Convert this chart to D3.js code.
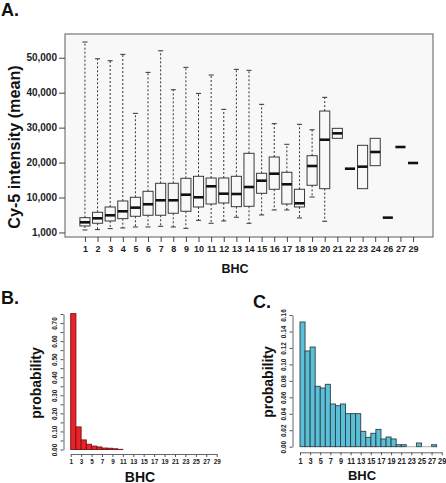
<!DOCTYPE html>
<html><head><meta charset="utf-8">
<script src="https://cdn.jsdelivr.net/npm/d3@7"></script>
<style>
html,body{margin:0;padding:0;background:#fff;}
svg{display:block;font-family:"Liberation Sans",Arial,Helvetica,sans-serif;}
</style></head><body>
<svg id="chart" width="446" height="483"></svg>
<script>
// ---------- Panel A data (box plots of Cy-5 intensity by BHC) ----------
const bhcCategories = ["1","2","3","4","5","6","7","8","9","10","11","12","13","14","15","16","17","18","19","20","21","22","23","24","26","27","29"];
const whiskerHigh = [54500,49700,49150,50970,34090,45820,52000,40850,47250,39800,45050,35240,46680,46400,36670,31130,25230,30950,29400,38670,null,null,null,null,null,null,null];
const boxHigh     = [4240,5770,7290,9010,10070,11780,14070,14070,15500,16070,15590,15590,16070,22650,16930,21600,17220,12360,21970,34750,29800,18250,24940,26940,4240,24460,19880];
const medians     = [2900,4050,4910,6060,7100,8070,9210,9210,10810,10070,13210,11100,11010,13010,14820,16820,13790,8350,19020,26540,28370,18250,18830,23030,4240,24460,19880];
const boxLow      = [1860,2630,3290,3950,4630,4920,4920,5490,6060,7290,8150,8440,7380,7490,11210,12360,8150,7300,13500,12530,26940,18250,12530,19110,4240,24460,19880];
const whiskerLow  = [715,810,1100,1290,1570,1570,1760,1570,1190,3480,2630,3290,4350,2630,5010,6440,6440,4150,10150,3200,null,null,null,null,null,null,null];
const yTickValuesA = [0,10000,20000,30000,40000,50000];
const yTickLabelsA = ["1,000","10,000","20,000","30,000","40,000","50,000"];

// ---------- Panel B data (histogram, bins [k,k+1]) ----------
const probB = [0.752,0.125,0.053,0.029,0.019,0.014,0.008,0.007,0.004,0.001,0,0,0,0,0,0,0,0,0,0,0,0,0,0,0,0,0,0];
const yTicksB = [0,0.05,0.10,0.15,0.20,0.25,0.30,0.35,0.40,0.45,0.50,0.55,0.60,0.65,0.70,0.75];
const yLabelsB = ["0.00","","0.10","","0.20","","0.30","","0.40","","0.50","","0.60","","0.70",""];

// ---------- Panel C data ----------
const probC = [0.1515,0.1163,0.1211,0.0734,0.0713,0.0758,0.0519,0.0498,0.0519,0.0401,0.0401,0.0401,0.0187,0.0114,0.0163,0.0211,0.0094,0.0118,0.0094,0.0024,0.0024,0,0,0.0045,0,0,0.0024];
const yTicksC = [0,0.02,0.04,0.06,0.08,0.10,0.12,0.14,0.16];
const yLabelsC = ["0.00","0.02","0.04","0.06","0.08","0.10","0.12","0.14","0.16"];

const histTicks = [1,3,5,7,9,11,13,15,17,19,21,23,25,27,29];

const svg = d3.select("#chart");

// ================= Panel A =================
const A = {left:65, right:433, top:34, bottom:237};
const xA = d3.scalePoint().domain(bhcCategories).range([A.left, A.right]).padding(1.58);
const yA = d3.scaleLinear().domain([-1300, 56800]).range([A.bottom, A.top]);
const boxW = xA.step() * 0.8;

svg.append("rect").attr("x",A.left).attr("y",A.top)
  .attr("width",A.right-A.left).attr("height",A.bottom-A.top).attr("fill","#f8f8f8");

const boxes = bhcCategories.map((c,i)=>({c, wl:whiskerLow[i], bl:boxLow[i], md:medians[i], bh:boxHigh[i], wh:whiskerHigh[i]}));
const bg = svg.append("g").selectAll("g").data(boxes).join("g")
  .attr("transform", d=>`translate(${xA(d.c)},0)`);

const wh = bg.filter(d=>d.wh!=null);
wh.append("line").attr("y1",d=>yA(d.bh)).attr("y2",d=>yA(d.wh))
  .attr("stroke","#333").attr("stroke-width",1).attr("stroke-dasharray","2,2");
wh.append("line").attr("y1",d=>yA(d.bl)).attr("y2",d=>yA(d.wl))
  .attr("stroke","#333").attr("stroke-width",1).attr("stroke-dasharray","2,2");
wh.append("line").attr("x1",-boxW/4).attr("x2",boxW/4).attr("y1",d=>yA(d.wh)).attr("y2",d=>yA(d.wh))
  .attr("stroke","#333").attr("stroke-width",1);
wh.append("line").attr("x1",-boxW/4).attr("x2",boxW/4).attr("y1",d=>yA(d.wl)).attr("y2",d=>yA(d.wl))
  .attr("stroke","#333").attr("stroke-width",1);
bg.append("rect").attr("x",-boxW/2).attr("width",boxW)
  .attr("y",d=>yA(d.bh)).attr("height",d=>yA(d.bl)-yA(d.bh))
  .attr("fill","none").attr("stroke","#3a3a3a").attr("stroke-width",1);
bg.append("line").attr("x1",-boxW/2).attr("x2",boxW/2).attr("y1",d=>yA(d.md)).attr("y2",d=>yA(d.md))
  .attr("stroke","#111").attr("stroke-width",2.6);

svg.append("rect").attr("x",A.left).attr("y",A.top)
  .attr("width",A.right-A.left).attr("height",A.bottom-A.top)
  .attr("fill","none").attr("stroke","#777").attr("stroke-width",1.2);

function styleAxis(g, fs){
  g.select(".domain").remove();
  g.selectAll(".tick line").attr("stroke","#444");
  g.selectAll("text").attr("font-size",fs).attr("font-weight","bold").attr("fill","#222")
    .attr("font-family","'Liberation Sans',Arial,sans-serif");
}

svg.append("g").attr("transform",`translate(${A.left},0)`)
  .call(d3.axisLeft(yA).tickValues(yTickValuesA).tickFormat((d,i)=>yTickLabelsA[i]).tickSize(6).tickPadding(2))
  .call(g=>styleAxis(g,"10px"));
svg.append("g").attr("transform",`translate(0,${A.bottom})`)
  .call(d3.axisBottom(xA).tickSize(5).tickPadding(4))
  .call(g=>styleAxis(g,"9px"));

svg.append("text").attr("transform","translate(19.5,147) rotate(-90) scale(0.95,1)")
  .attr("text-anchor","middle").attr("font-size","17px").attr("font-weight","bold").attr("fill","#111")
  .text("Cy-5 intensity (mean)");
svg.append("text").attr("x",235).attr("y",273).attr("text-anchor","middle")
  .attr("font-size","12.5px").attr("font-weight","bold").attr("fill","#111").text("BHC");
svg.append("text").attr("x",1).attr("y",16).attr("font-size","18px").attr("font-weight","bold").attr("fill","#111").text("A.");

// ================= Histogram helper =================
function histPanel(cfg){
  const x = d3.scaleLinear().domain([1,29]).range(cfg.xr);
  const y = d3.scaleLinear().domain(cfg.yd).range(cfg.yr);
  const bins = cfg.data.map((p,i)=>({x0:i+1, x1:i+2, p}));
  const g = svg.append("g");
  g.selectAll("rect").data(bins.filter(b=>b.p>0)).join("rect")
    .attr("x",d=>x(d.x0)).attr("width",d=>x(d.x1)-x(d.x0))
    .attr("y",d=>y(d.p)).attr("height",d=>y(0)-y(d.p))
    .attr("fill",cfg.fill).attr("stroke",cfg.stroke).attr("stroke-width",0.9);
  if(cfg.zeroLine){
    g.selectAll("line.z").data(bins.filter(b=>b.p===0)).join("line")
      .attr("x1",d=>x(d.x0)).attr("x2",d=>x(d.x1)).attr("y1",y(0)).attr("y2",y(0))
      .attr("stroke","#aaa").attr("stroke-width",1);
  }
  // y axis
  const ya = svg.append("g").attr("transform",`translate(${cfg.yAxisX},0)`)
    .call(d3.axisLeft(y).tickValues(cfg.yTicks).tickFormat((d,i)=>cfg.yLabels[i]).tickSize(3).tickSizeOuter(0));
  ya.select(".domain").attr("stroke","#666");
  ya.selectAll(".tick line").attr("stroke","#555");
  ya.selectAll("text").attr("x",0).attr("y",0).attr("dy",0).attr("text-anchor","middle")
    .attr("transform",`translate(-7,0) rotate(-90) scale(0.8,1)`)
    .attr("font-size",cfg.yfs).attr("font-weight","bold").attr("fill","#222");
  // x axis
  const xa = svg.append("g").attr("transform",`translate(0,${cfg.xAxisY})`)
    .call(d3.axisBottom(x).tickValues(histTicks).tickFormat(d3.format("d")).tickSize(3).tickSizeOuter(0).tickPadding(2));
  xa.select(".domain").attr("stroke","#666");
  xa.selectAll(".tick line").attr("stroke","#555");
  xa.selectAll("text").each(function(){
    const t = d3.select(this);
    const yy = +t.attr("y");
    t.attr("y",0).attr("transform",`translate(0,${yy}) scale(${cfg.xsx},1)`);
  }).attr("font-size",cfg.xfs).attr("font-weight","bold").attr("fill","#222");
  // titles
  svg.append("text").attr("transform",`translate(${cfg.ytitle[0]},${cfg.ytitle[1]}) rotate(-90)`)
    .attr("text-anchor","middle").attr("font-size","14px").attr("font-weight","bold").attr("fill","#111")
    .text("probability");
  svg.append("text").attr("x",cfg.xtitle[0]).attr("y",cfg.xtitle[1]).attr("text-anchor","middle")
    .attr("font-size",cfg.xtfs).attr("font-weight","bold").attr("fill","#111").text("BHC");
  svg.append("text").attr("x",cfg.tag[0]).attr("y",cfg.tag[1]).attr("font-size","18px")
    .attr("font-weight","bold").attr("fill","#111").text(cfg.tagText);
}

// ================= Panel B =================
histPanel({
  data: probB, xr:[70.7,216.7], yd:[0,0.75], yr:[449.5,314],
  fill:"#e8232a", stroke:"#7a1010", zeroLine:false,
  yAxisX:63.5, yTicks:yTicksB, yLabels:yLabelsB, yfs:"8px",
  xAxisY:454, xfs:"7.5px", xsx:0.85,
  ytitle:[41,383], xtitle:[140,481.5], xtfs:"14px",
  tag:[1,304], tagText:"B."
});

// ================= Panel C =================
histPanel({
  data: probC, xr:[300,441.7], yd:[0,0.16], yr:[446.7,315],
  fill:"#5bbfd7", stroke:"#2b3f48", zeroLine:true,
  yAxisX:292.5, yTicks:yTicksC, yLabels:yLabelsC, yfs:"8px",
  xAxisY:452.3, xfs:"9px", xsx:0.82,
  ytitle:[273,382], xtitle:[362,480], xtfs:"13px",
  tag:[253,308], tagText:"C."
});
</script>
</body></html>
